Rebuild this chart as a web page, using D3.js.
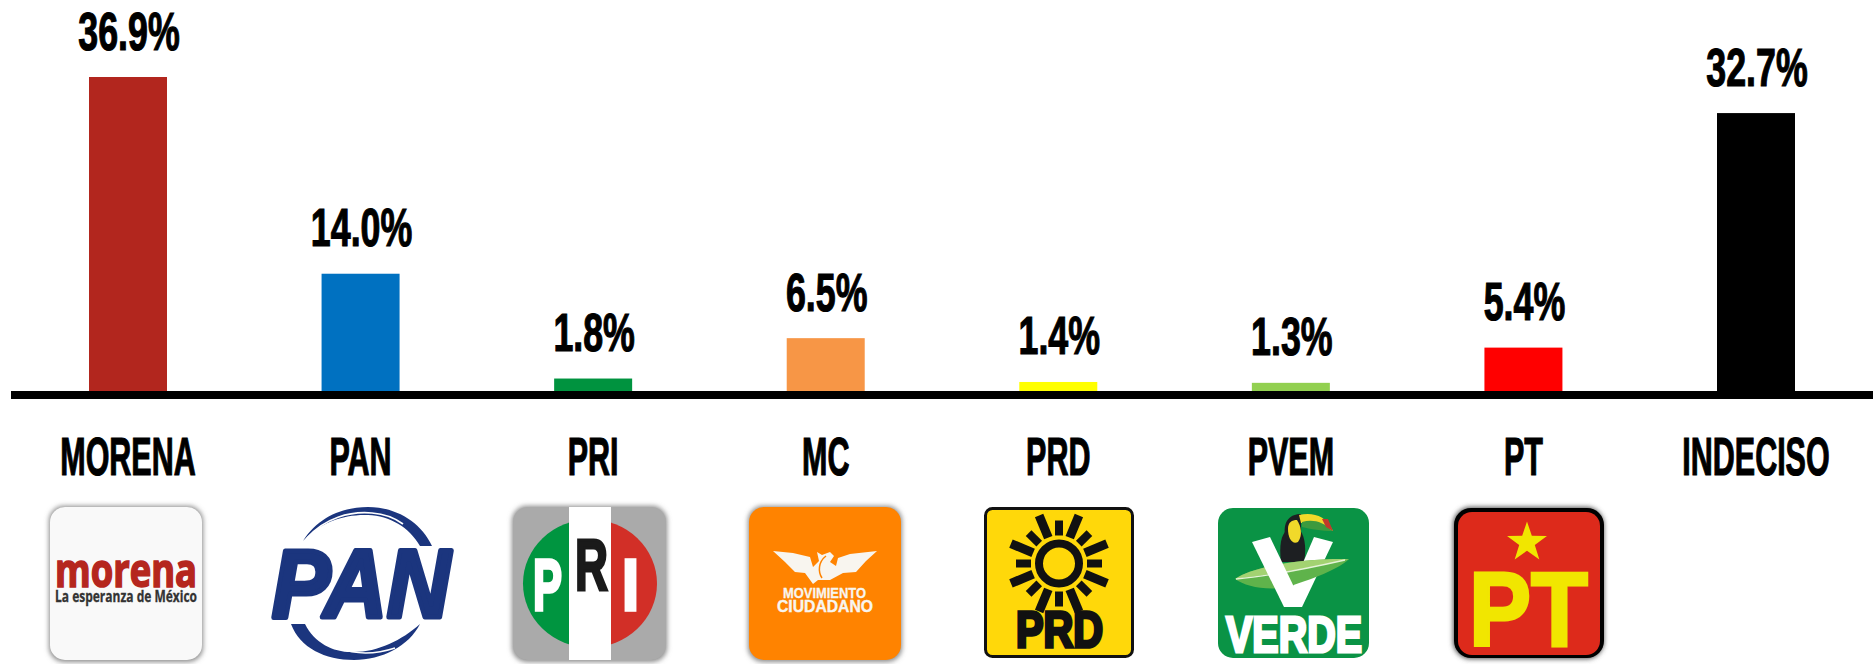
<!DOCTYPE html>
<html lang="es">
<head>
<meta charset="utf-8">
<script src="https://cdn.jsdelivr.net/npm/d3@7"></script>
<style>
html,body{margin:0;padding:0;background:#fff;overflow:hidden}
svg{display:block}
.lbl{font-family:"Liberation Sans Narrow","Liberation Sans",sans-serif;font-weight:700;fill:#000;stroke:#000;stroke-width:1.2px}
</style>
</head>
<body>
<svg id="chart" width="1874" height="664"></svg>
<script>
const categories = ["MORENA","PAN","PRI","MC","PRD","PVEM","PT","INDECISO"];
const values = [36.9,14.0,1.8,6.5,1.4,1.3,5.4,32.7];
const barColors = ["#b2261e","#0071c1","#00933f","#f79646","#ffff00","#92d050","#ff0000","#000000"];

const svg = d3.select("#chart");
const x = d3.scaleBand().domain(categories).range([89,1795]).paddingInner(1-78/232.57).paddingOuter(0);
const y = d3.scaleLinear().domain([0,36.9]).range([394,77]);
const axisY = 395;

svg.append("g").selectAll("rect").data(categories).join("rect")
  .attr("x",d=>x(d)).attr("width",x.bandwidth())
  .attr("y",(d,i)=>y(values[i])).attr("height",(d,i)=>y(0)-y(values[i]))
  .attr("fill",(d,i)=>barColors[i]);

svg.append("line").attr("x1",11).attr("x2",1873).attr("y1",axisY).attr("y2",axisY)
  .attr("stroke","#000").attr("stroke-width",8);

function squeezed(g,txt,cx,base,sx){
  return g.append("text").attr("class","lbl").attr("text-anchor","middle")
    .attr("font-size",53)
    .attr("transform",`translate(${cx},${base}) scale(${sx},1)`).text(txt);
}
const vals = svg.append("g");
categories.forEach((c,i)=>squeezed(vals,values[i].toFixed(1)+"%",x(c)+x.bandwidth()/2+1,y(values[i])-27.5,0.675));
const cats = svg.append("g");
categories.forEach(c=>squeezed(cats,c,x(c)+x.bandwidth()/2,475,0.575));

/* ---------- party logos ---------- */
const defs = svg.append("defs");
defs.append("filter").attr("id","soft").attr("x","-10%").attr("y","-10%").attr("width","120%").attr("height","120%")
  .append("feGaussianBlur").attr("stdDeviation",2.5);
const logos = svg.append("g");
function box(x0,y0,x1,y1,r,fill,shadow){
  if(shadow) logos.append("rect").attr("x",x0-1).attr("y",y0-1).attr("width",x1-x0+2).attr("height",y1-y0+3)
    .attr("rx",r).attr("fill","#8a8a8a").attr("filter","url(#soft)");
  return logos.append("rect").attr("x",x0).attr("y",y0).attr("width",x1-x0).attr("height",y1-y0).attr("rx",r).attr("fill",fill);
}
function word(t,x0,x1,base,size,fill,opts={}){
  const e=logos.append("text").attr("x",x0).attr("y",base).attr("font-size",size).attr("fill",fill)
    .attr("font-family",opts.font||"Liberation Sans").attr("font-weight",opts.weight||700)
    .attr("font-style",opts.style||"normal")
    .attr("textLength",x1-x0).attr("lengthAdjust","spacingAndGlyphs").text(t);
  if(opts.stroke) e.attr("stroke",fill).attr("stroke-width",opts.stroke);
  return e;
}
function path(d,fill,stroke,sw){
  return logos.append("path").attr("d",d).attr("fill",fill||"none").attr("stroke",stroke||"none").attr("stroke-width",sw||0);
}

/* morena */
box(50,507,202,660,15,"#f9f9f9",true);
word("morena",55,197,587,46,"#b5261e",{font:"Open Sans",stroke:1.6});
word("La esperanza de México",55,197,602,15.5,"#333333",{font:"Open Sans",stroke:.3});

/* PAN */
const blue="#1b357e";
path("M303,541 C318,517 343,507 368,507 C396,507 421,522 432,546 L420,546 C409,527 390,516 368,515 C345,514 320,522 303,541 Z",blue);
path("M307,538 C325,518 350,511 372,513 C385,514 395,518 403,524","none","#fff",1.6);
path("M291,624 L305,624 C315,644 335,653 354,652 C378,652 402,640 420,624 C409,646 382,660 354,660 C325,660 300,648 291,624 Z",blue);
path("M320,637 C335,652 365,658 395,648","none","#fff",1.5);
word("PAN",272,450,617,97,blue,{style:"italic",font:"Liberation Sans",stroke:5}).attr("stroke-linejoin","round");

/* PRI */
box(513,507,666,660,15,"#aaaaaa",true);
path(d3.arc()({innerRadius:0,outerRadius:1,startAngle:Math.PI,endAngle:2*Math.PI}),"#009540")
  .attr("transform","translate(590,583.5) scale(67,64)");
path(d3.arc()({innerRadius:0,outerRadius:1,startAngle:0,endAngle:Math.PI}),"#d22f27")
  .attr("transform","translate(590,583.5) scale(67,64)");
logos.append("rect").attr("x",569).attr("y",507).attr("width",42).attr("height",153).attr("fill","#fff");
word("P",533,562,610,73,"#fff",{stroke:3.5});
word("R",575,608,590,73,"#1a1a1a",{stroke:3});
word("I",622,639,610,73,"#fff",{stroke:3.5});

/* MC */
box(749,507,901,660,15,"#ff8300",true);
path("M773,551 L793,553 L810,557 L813,567 L819,561 L817,552 L822,555 L830,552 L834,556 L830,562 L836,566 L838,558 L850,554 L877,551 L866,561 L856,572 L843,573 L830,580 L818,580 L813,584 L805,573 L795,572 L785,562 Z","#f8f5ef");
path("M826,556 C818,562 818,572 822,578","none","#ff8300",1.5);
word("MOVIMIENTO",783,866,598,14,"#f8f5ef",{stroke:.3});
word("CIUDADANO",777,873,612,17,"#f8f5ef",{stroke:.4});

/* PRD */
logos.append("rect").attr("x",985.5).attr("y",508.5).attr("width",147).attr("height",148).attr("rx",7)
  .attr("fill","#ffd80a").attr("stroke","#111").attr("stroke-width",3);
d3.range(16).forEach(i=>{
  const a=i*Math.PI/8, long=i%2===1, r0=28, r1=long?52:(i%4===0?43:43);
  logos.append("line")
    .attr("x1",1059+r0*Math.sin(a)).attr("y1",563.5-r0*Math.cos(a))
    .attr("x2",1059+r1*Math.sin(a)).attr("y2",563.5-r1*Math.cos(a))
    .attr("stroke","#111").attr("stroke-width",long?9:8);
});
logos.append("circle").attr("cx",1059).attr("cy",563.5).attr("r",20).attr("fill","none").attr("stroke","#111").attr("stroke-width",8);
word("PRD",1016,1103,647,50,"#111",{stroke:3.5});

/* PVEM */
box(1218,508,1369,658,15,"#0a9345",false);
path("M1281,562 C1279,545 1281,535 1287,530 L1300,530 C1306,538 1306,552 1304,562 Z","#1d1f22");
path("M1285,535 C1283,520 1291,514 1301,514 L1301,526 C1302,535 1298,542 1292,544 C1288,543 1286,540 1285,535 Z","#1d1f22");
path("M1288,529 C1288,522 1292,520 1297,520 C1301,526 1303,535 1298,542 C1292,545 1288,538 1288,529 Z","#f1d92a");
path("M1299,515 C1312,512 1326,515 1333,531 C1324,526 1312,523 1301,523 Z","#f1d92a");
path("M1302,522 C1312,519 1323,521 1332,531 C1322,531 1310,529 1302,527 Z","#3c9a3e");
path("M1322,519 L1328,519 L1333,531 L1326,527 Z","#c0392b");
path("M1314,537 L1333,542 L1302,607 L1284,607 Z","#ffffff");
path("M1235,579 C1255,565 1310,558 1349,559 C1335,572 1305,581 1285,588 C1262,590 1245,586 1235,579 Z","#5fb34b");
path("M1235,579 C1255,565 1310,558 1349,559 C1320,566 1270,575 1235,579 Z","#a3d271");
path("M1236,579 C1270,576 1310,568 1345,560","none","#e6f3d8",1.3);
path("M1252,542 L1270,537 L1294,587 L1302,607 L1284,607 Z","#ffffff");
word("VERDE",1226,1362,652,50,"#ffffff",{stroke:3});

/* PT */
logos.append("rect").attr("x",1453).attr("y",507).attr("width",151).attr("height",152).attr("rx",18)
  .attr("fill","#555").attr("filter","url(#soft)");
box(1454,508,1604,658,17,"#000",false);
box(1458,512,1600,655,14,"#dd2a1b",false);
const star = d3.range(10).map(i=>{const r=i%2?8.2:21,a=i*Math.PI/5;return [1527+r*Math.sin(a),542.5-r*Math.cos(a)];});
path("M"+star.join("L")+"Z","#f1e600");
word("PT",1469,1588,646,105,"#f1e600",{stroke:3});
</script>
</body>
</html>
